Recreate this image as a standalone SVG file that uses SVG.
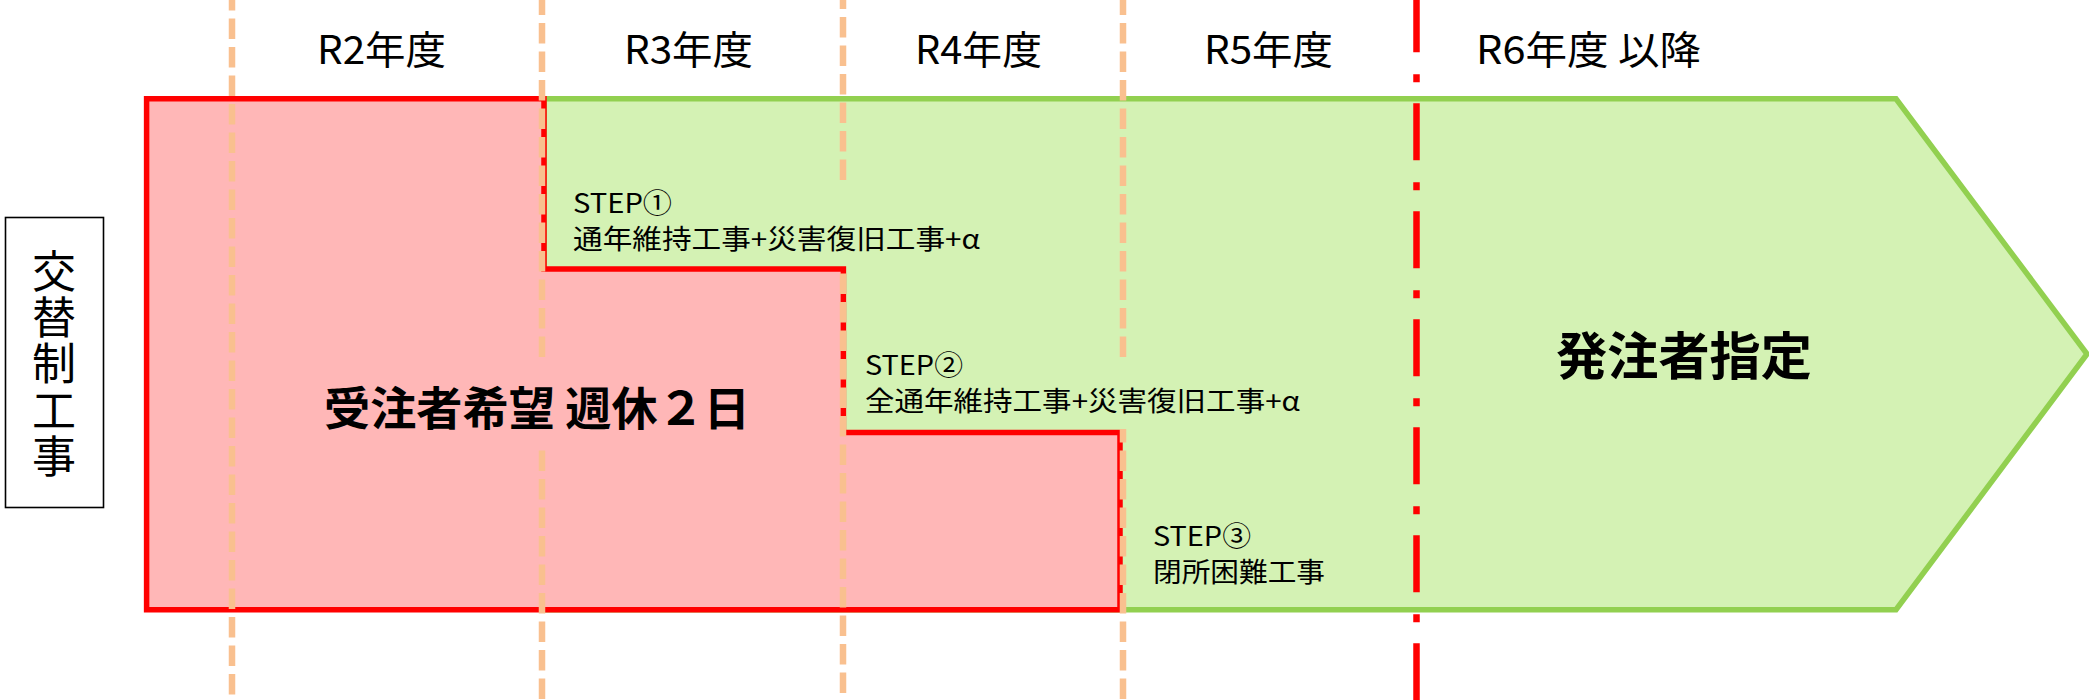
<svg xmlns="http://www.w3.org/2000/svg" width="2089" height="700" viewBox="0 0 2089 700">
  <style>
    .hdr { font-family: "Noto Sans CJK JP", "Liberation Sans", sans-serif; font-size: 39px; fill: #000; }
    .step { font-family: "Noto Sans CJK JP", "Liberation Sans", sans-serif; font-size: 27px; fill: #000; }
    .big { font-family: "Noto Sans CJK JP", "Liberation Sans", sans-serif; font-weight: 700; fill: #000; }
    .vert { font-family: "Noto Sans CJK JP", "Liberation Sans", sans-serif; font-size: 44px; fill: #000; }
    .yr { stroke: #F9C08F; stroke-width: 6.5; stroke-dasharray: 20.5 8; fill: none; }
    .cut { stroke: #FF0000; stroke-width: 6.5; stroke-dasharray: 57 22 8 21; fill: none; }
  </style>

  <rect x="0" y="0" width="2089" height="700" fill="#FFFFFF"/>

  <g id="owner-designated">
    <polygon points="544,98.8 1896,98.8 2087,354 1896,609.7 544,609.7" fill="#D4F2B4" stroke="#92D050" stroke-width="5.5" stroke-linejoin="miter"/>
  </g>

  <g id="contractor-choice">
    <polygon points="146.6,98.8 544,98.8 544,269 843.4,269 843.4,432.5 1120,432.5 1120,609.7 146.6,609.7" fill="#FFB7B7" stroke="#FF0000" stroke-width="5.5" stroke-linejoin="miter"/>
  </g>

  <g id="connectors">
    <line class="yr" x1="232" y1="-10" x2="232" y2="710"/>
    <line class="yr" x1="542" y1="-5.5" x2="542" y2="710"/>
    <line class="yr" x1="843" y1="-11.5" x2="843" y2="710"/>
    <line class="yr" x1="1123" y1="-5.5" x2="1123" y2="710"/>
  </g>

  <g id="text-backgrounds">
    <rect x="320" y="364" width="436" height="82" fill="#FFB7B7"/>
    <rect x="549" y="185" width="450" height="81" fill="#D4F2B4"/>
    <rect x="849" y="364" width="465" height="65" fill="#D4F2B4"/>
  </g>

  <g id="r6-boundary">
    <line class="cut" x1="1416.5" y1="-4.7" x2="1416.5" y2="710"/>
  </g>

  <g id="year-labels">
    <text class="hdr" x="317" y="63.5" textLength="129" lengthAdjust="spacingAndGlyphs">R2年度</text>
    <text class="hdr" x="624" y="63.5" textLength="129" lengthAdjust="spacingAndGlyphs">R3年度</text>
    <text class="hdr" x="915" y="63.5" textLength="127" lengthAdjust="spacingAndGlyphs">R4年度</text>
    <text class="hdr" x="1204" y="63.5" textLength="129" lengthAdjust="spacingAndGlyphs">R5年度</text>
    <text class="hdr" x="1476" y="63.5" textLength="225" lengthAdjust="spacingAndGlyphs">R6年度 以降</text>
  </g>

  <g id="contractor-label">
    <text class="big" x="324" y="424.5" font-size="46" textLength="426" lengthAdjust="spacingAndGlyphs">受注者希望 週休２日</text>
  </g>

  <g id="owner-label">
    <text class="big" x="1556" y="374.5" font-size="51" textLength="256" lengthAdjust="spacingAndGlyphs">発注者指定</text>
  </g>

  <g id="step1">
    <text class="step" x="573" y="213" textLength="99" lengthAdjust="spacingAndGlyphs">STEP①</text>
    <text class="step" x="573" y="249" textLength="407" lengthAdjust="spacingAndGlyphs">通年維持工事+災害復旧工事+α</text>
  </g>

  <g id="step2">
    <text class="step" x="865" y="375" textLength="98" lengthAdjust="spacingAndGlyphs">STEP②</text>
    <text class="step" x="865" y="411" textLength="435" lengthAdjust="spacingAndGlyphs">全通年維持工事+災害復旧工事+α</text>
  </g>

  <g id="step3">
    <text class="step" x="1153" y="545.5" textLength="98" lengthAdjust="spacingAndGlyphs">STEP③</text>
    <text class="step" x="1153" y="581.5" textLength="172" lengthAdjust="spacingAndGlyphs">閉所困難工事</text>
  </g>

  <g id="row-label">
    <rect x="5.5" y="217.5" width="98" height="290" fill="#FFFFFF" stroke="#000000" stroke-width="1.6"/>
    <text class="vert" x="54" y="249" writing-mode="vertical-rl" letter-spacing="2.3">交替制工事</text>
  </g>
</svg>
